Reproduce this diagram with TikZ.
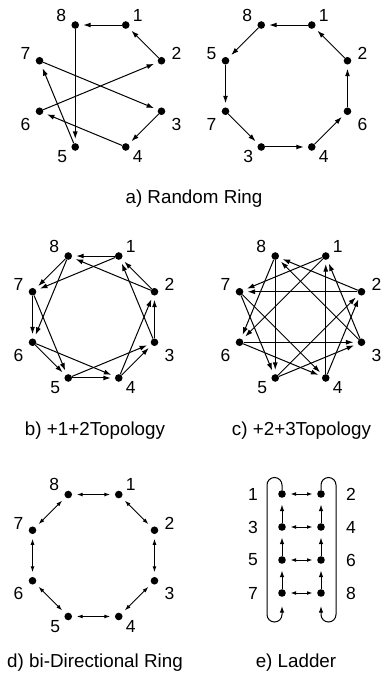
\documentclass[tikz,border=0pt]{standalone}
\usepackage{fontspec}
\setmainfont{Liberation Sans}
\usetikzlibrary{arrows.meta, calc}
\tikzset{
  dot/.style={circle, fill=black, inner sep=0pt, minimum size=7.6pt},
  num/.style={font=\fontsize{17.5}{17.5}\selectfont, inner sep=0pt},
  caption/.style={font=\fontsize{18.8}{20}\selectfont, inner sep=0pt, anchor=base},
  arr/.style={-{Latex[length=7.5pt, width=5pt]}, line width=1pt, shorten >=4pt},
  biarr/.style={{Latex[length=6pt, width=4pt]}-{Latex[length=6pt, width=4pt]},
                line width=1pt, shorten >=4.5pt, shorten <=4.5pt},
  larr/.style={-{Latex[length=6.5pt, width=4.4pt]}, line width=1pt, shorten >=6.5pt},
  lbiarr/.style={{Latex[length=5.5pt, width=3.8pt]}-{Latex[length=5.5pt, width=3.8pt]},
                 line width=1pt, shorten >=4.5pt, shorten <=4.5pt},
}
\newcommand{\octring}[3]{%
  % #1 = centre, #2 = name prefix, #3 = numbers on the corners (clockwise from top right)
  \begin{scope}[shift={#1}]
    \foreach \n [count=\k] in {#3}{
      \pgfmathsetmacro{\ang}{-112.5+45*\k}
      \pgfmathsetmacro{\dx}{{12,15,15,12,-13,-14,-14,-14}[\k-1]}
      \pgfmathsetmacro{\dy}{{-10,-7,13,10,10,13,-7,-10}[\k-1]}
      \node[dot] (#2\n) at (\ang:66) {};
      \node[num] (#2l\n) at ($(\ang:66)+(\dx,\dy)$) {\n};
    }
  \end{scope}
}

\begin{document}
\begin{tikzpicture}[x=1pt, y=-1pt]
\useasboundingbox (0,0) rectangle (381,677);

% --- a) random ring, drawn twice -------------------------------------------
\octring{(100.5,86)}{a}{1,2,3,4,5,6,7,8}
\foreach \s/\t in {1/8, 8/5, 5/7, 7/3, 3/4, 4/6, 6/2, 2/1}
  \draw[arr] (a\s) -- (a\t);

\octring{(286.5,86)}{ar}{1,2,6,4,3,7,5,8}
\foreach \s/\t in {1/8, 8/5, 5/7, 7/3, 3/4, 4/6, 6/2, 2/1}
  \draw[arr] (ar\s) -- (ar\t);

\node[caption] (capa) at (194,203) {a) Random Ring};

% --- b) +1+2 topology --------------------------------------------------------
\octring{(93.5,317)}{b}{1,2,3,4,5,6,7,8}
\foreach \i in {1,...,8}{
  \pgfmathtruncatemacro{\j}{mod(\i+6,8)+1}
  \pgfmathtruncatemacro{\jj}{mod(\i+5,8)+1}
  \draw[arr] (b\i) -- (b\j);
  \draw[arr] (b\i) -- (b\jj);
}
\node[caption] (capb) at (95,435) {b) +1+2Topology};

% --- c) +2+3 topology --------------------------------------------------------
\octring{(300.5,317)}{c}{1,2,3,4,5,6,7,8}
\foreach \i in {1,...,8}{
  \pgfmathtruncatemacro{\j}{mod(\i+5,8)+1}
  \pgfmathtruncatemacro{\jj}{mod(\i+4,8)+1}
  \draw[arr] (c\i) -- (c\j);
  \draw[arr] (c\i) -- (c\jj);
}
\node[caption] (capc) at (301.5,435) {c) +2+3Topology};

% --- d) bi-directional ring ---------------------------------------------------
\octring{(93.5,555.5)}{d}{1,2,3,4,5,6,7,8}
\foreach \i in {1,...,8}{
  \pgfmathtruncatemacro{\j}{mod(\i,8)+1}
  \draw[biarr] (d\i) -- (d\j);
}
\node[caption] (capd) at (95,667) {d) bi-Directional Ring};

% --- e) ladder ---------------------------------------------------------------
\foreach \n/\x/\y in {1/282/494, 2/321/494, 3/282/527, 4/321/527,
                      5/282/560, 6/321/560, 7/282/593, 8/321/593}
  \node[dot] (e\n) at (\x,\y) {};
\foreach \n/\dx in {1/-29, 3/-29, 5/-29, 7/-29, 2/30, 4/30, 6/30, 8/30}
  \node[num] (el\n) at ($(e\n)+(\dx,0)$) {\n};
\foreach \s/\t in {3/1, 5/3, 7/5, 4/2, 6/4, 8/6}
  \draw[larr] (e\s) -- (e\t);
\foreach \s/\t in {1/2, 3/4, 5/6, 7/8}
  \draw[lbiarr] (e\s) -- (e\t);
% wrap-around loops
\draw[larr, shorten >=9pt, rounded corners=7.5pt]
  (e1) -- (282,477.5) -- (267,477.5) -- (267,622) -- (282,622) -- (e7);
\draw[larr, shorten >=9pt, rounded corners=7.5pt]
  (e2) -- (321,477.5) -- (336,477.5) -- (336,622) -- (321,622) -- (e8);
\node[caption] (cape) at (296,667) {e) Ladder};

\end{tikzpicture}
\end{document}
